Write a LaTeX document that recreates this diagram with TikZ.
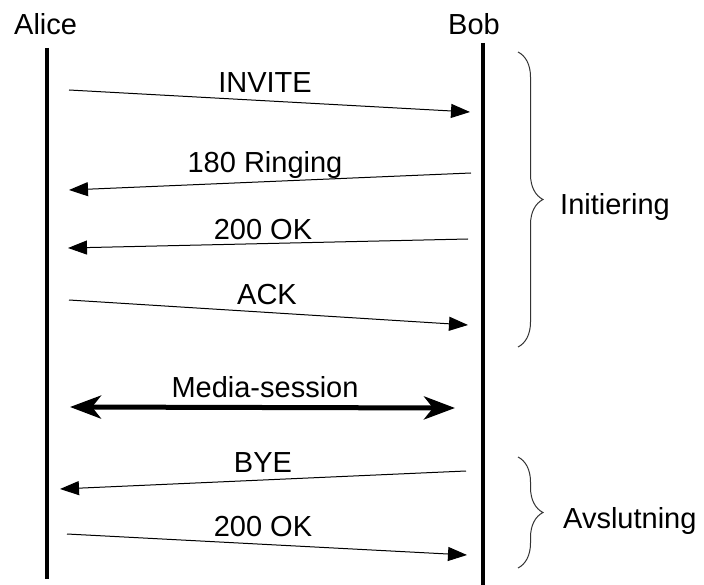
\documentclass[tikz,border=0pt]{standalone}
\usepackage{fontspec}
\setmainfont{Liberation Sans}
\usetikzlibrary{arrows.meta,decorations.pathreplacing}

\begin{document}
\begin{tikzpicture}[x=1pt,y=-1pt,
  lbl/.style={font=\fontsize{29}{34}\selectfont, inner sep=0pt},
  lifeline/.style={line width=4pt},
  msg/.style={line width=1pt, -{Triangle[length=19pt,width=14pt]}},
  media/.style={line width=5pt,
    {Stealth[length=31pt,width=23pt,inset=9pt]}-{Stealth[length=31pt,width=23pt,inset=9pt]}},
  phase/.style={line width=1pt, draw=black!80, decorate,
    decoration={brace, amplitude=25pt}}]

\useasboundingbox (0,0) rectangle (704,585);

% participants
\node[lbl, anchor=base west] (alice) at (14,35) {Alice};
\node[lbl, anchor=base west] (bob) at (448,35) {Bob};

% lifelines
\coordinate (aTop) at (47,48);
\coordinate (aBot) at (47,579);
\coordinate (bTop) at (483,43);
\coordinate (bBot) at (483,585);
\draw[lifeline] (aTop) -- (aBot);
\draw[lifeline, line width=3.5pt] (bTop) -- (bBot);

% message end points
\coordinate (m1s) at (69,90);   \coordinate (m1e) at (470,112);
\coordinate (m2s) at (471,173); \coordinate (m2e) at (69,190);
\coordinate (m3s) at (468,239); \coordinate (m3e) at (68,248);
\coordinate (m4s) at (69,300);  \coordinate (m4e) at (468,325);
\coordinate (m5s) at (70,407);  \coordinate (m5e) at (455,408);
\coordinate (m6s) at (466,471); \coordinate (m6e) at (60,489);
\coordinate (m7s) at (67,534);  \coordinate (m7e) at (467,555);

\draw[msg] (m1s) -- (m1e);
\draw[msg] (m2s) -- (m2e);
\draw[msg] (m3s) -- (m3e);
\draw[msg] (m4s) -- (m4e);
\draw[media] (m5s) -- (m5e);
\draw[msg] (m6s) -- (m6e);
\draw[msg] (m7s) -- (m7e);

% message labels
\node[lbl, anchor=base] (l1) at (265,93)  {INVITE};
\node[lbl, anchor=base] (l2) at (265,173) {180 Ringing};
\node[lbl, anchor=base] (l3) at (263,240) {200 OK};
\node[lbl, anchor=base] (l4) at (267,305) {ACK};
\node[lbl, anchor=base] (l5) at (265,397) {Media-session};
\node[lbl, anchor=base] (l6) at (263,472) {BYE};
\node[lbl, anchor=base] (l7) at (263,536) {200 OK};

% phases
\coordinate (p1a) at (518,52);  \coordinate (p1b) at (518,347);
\coordinate (p2a) at (518,457); \coordinate (p2b) at (518,568);
\draw[phase] (p1a) -- (p1b);
\draw[phase] (p2a) -- (p2b);
\node[lbl, anchor=base west] (init) at (560,215) {Initiering};
\node[lbl, anchor=base west] (avsl) at (563,528) {Avslutning};
\end{tikzpicture}
\end{document}
